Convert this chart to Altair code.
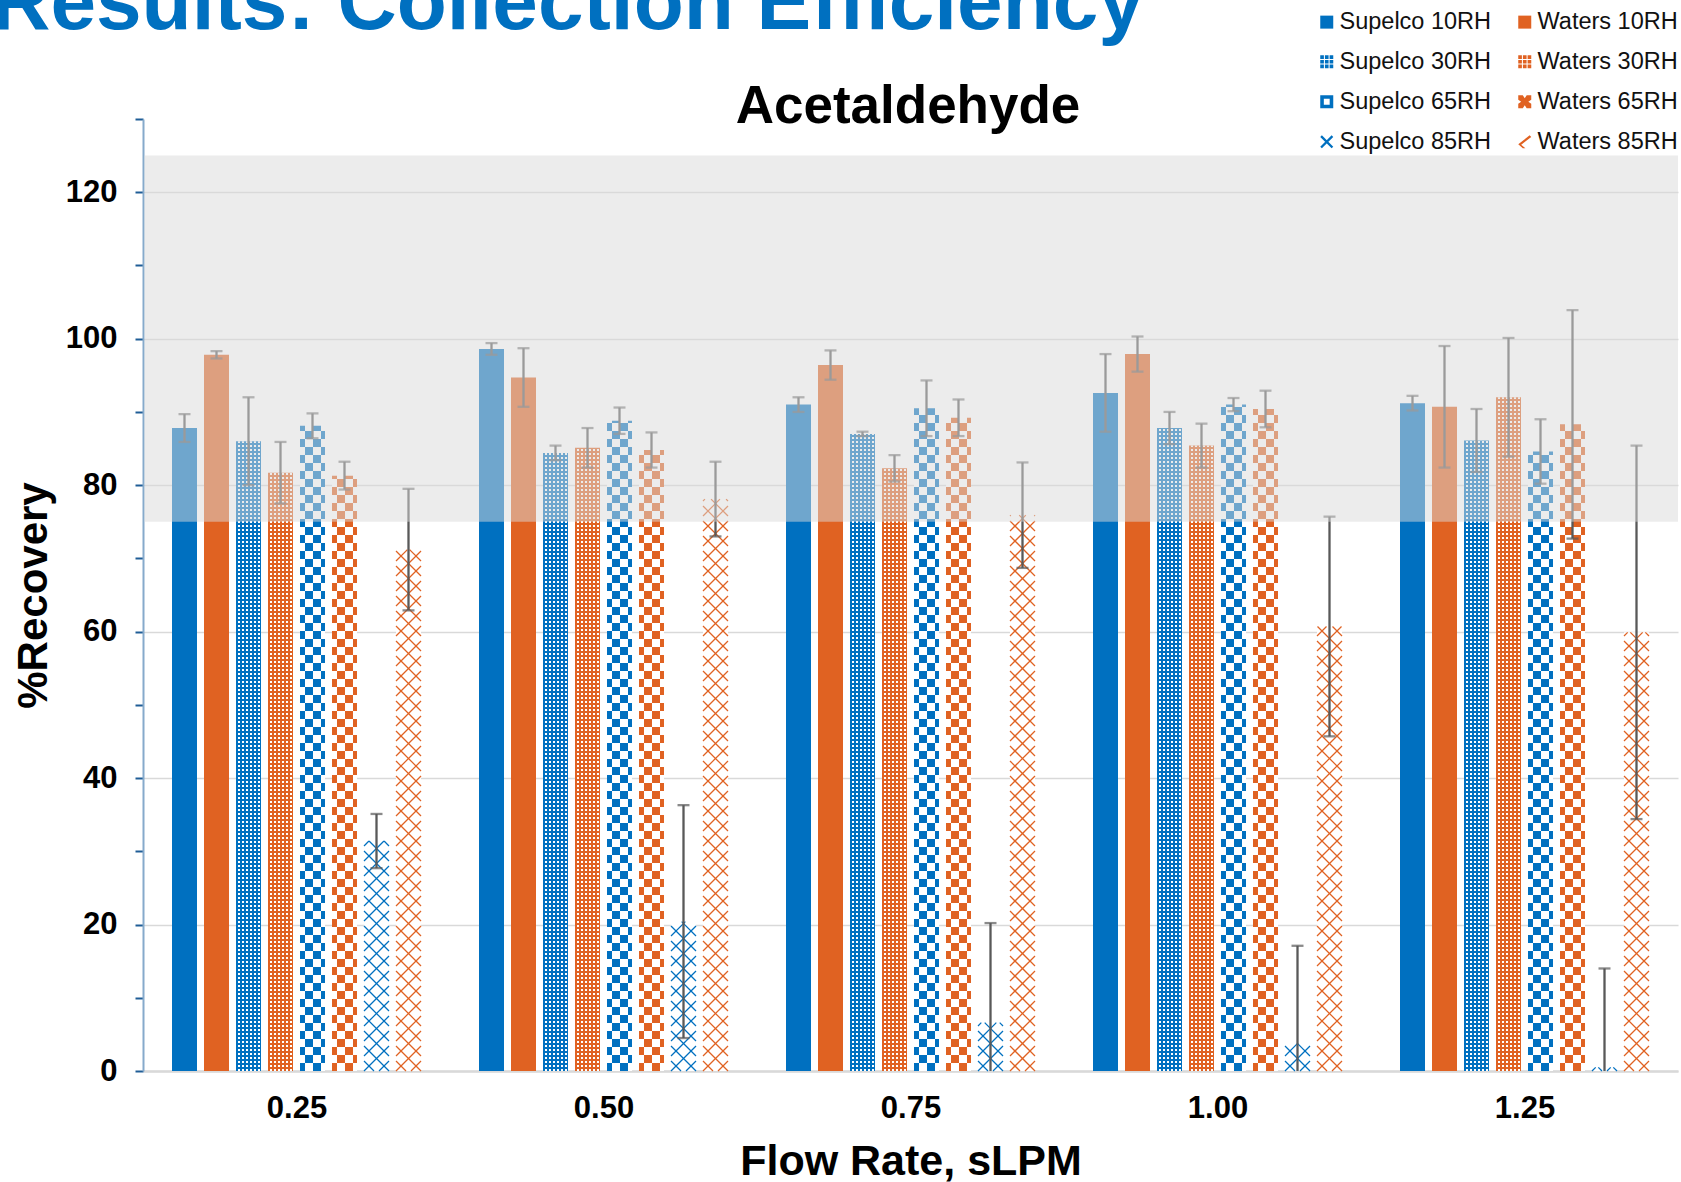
import altair as alt
import numpy as np
import pandas as pd

# ---------------- data ----------------
flow_rates = [0.25, 0.50, 0.75, 1.00, 1.25]
series_names = ["Supelco 10RH", "Waters 10RH", "Supelco 30RH", "Waters 30RH",
                "Supelco 65RH", "Waters 65RH", "Supelco 85RH", "Waters 85RH"]
brand_colors = {"Supelco": "#0070C0", "Waters": "#E06222"}

recovery = {
    "Supelco 10RH": [87.8, 98.6, 91.0, 92.6, 91.2],
    "Waters 10RH":  [97.8, 94.7, 96.4, 97.9, 90.7],
    "Supelco 30RH": [86.0, 84.4, 87.0, 87.8, 86.1],
    "Waters 30RH":  [81.7, 85.1, 82.3, 85.4, 92.0],
    "Supelco 65RH": [88.1, 88.8, 90.5, 91.0, 84.6],
    "Waters 65RH":  [81.3, 84.8, 89.2, 90.4, 88.3],
    "Supelco 85RH": [31.4, 20.4, 6.6, 3.8, 0.5],
    "Waters 85RH":  [71.2, 78.1, 75.9, 60.7, 59.9],
}
errors = {
    "Supelco 10RH": [1.9, 0.8, 1.0, 5.3, 1.0],
    "Waters 10RH":  [0.5, 4.0, 2.0, 2.4, 8.3],
    "Supelco 30RH": [6.0, 1.0, 0.3, 2.2, 4.3],
    "Waters 30RH":  [4.2, 2.7, 1.8, 3.0, 8.1],
    "Supelco 65RH": [1.7, 1.8, 3.8, 0.9, 4.4],
    "Waters 65RH":  [1.9, 2.4, 2.5, 2.5, 15.6],
    "Supelco 85RH": [3.7, 15.9, 13.6, 13.3, 13.5],
    "Waters 85RH":  [8.3, 5.1, 7.2, 15.0, 25.5],
}
band_low, band_high = [75], [125]
main_title = "Results: Collection Efficiency"
sub_title = "Acetaldehyde"

# ---------------- layout / style constants ----------------
W_PX, H_PX = 1535, 952
X_MIN, X_MAX = 0.125, 1.375
Y_MAX = 130
kx = W_PX / (X_MAX - X_MIN)   # px per x unit
ky = H_PX / Y_MAX             # px per y unit
STEP_PX, BAR_PX = 32.0, 25.0
FONT = "Liberation Sans"
ERR_COLOR = "#595959"

# legend lists column-major: Supelco entries in column 1, Waters in column 2
legend_order = [s for s in series_names if s.startswith("Supelco")] + \
               [s for s in series_names if s.startswith("Waters")]
color_scale = alt.Scale(domain=legend_order,
                        range=[brand_colors[s.split()[0]] for s in legend_order])

# ---------------- tables built from the arrays ----------------
rows = []
for gi, fr in enumerate(flow_rates):
    for si, s in enumerate(series_names):
        v = recovery[s][gi]
        e = errors[s][gi]
        cx = fr + (si - 3.5) * STEP_PX / kx
        rows.append(dict(series=s, rh=s.split()[1], flow=fr, value=v,
                         lo=max(0.0, v - e), hi=v + e, cx=cx,
                         xl=cx - BAR_PX / 2 / kx, xr=cx + BAR_PX / 2 / kx, zero=0.0))
bars = pd.DataFrame(rows)

# 30RH: white dot columns (dashed vertical rules)
dot_rows = []
for r in bars[bars.rh == "30RH"].itertuples():
    for k in range(6):
        u = 3.0 + 4 * k
        dot_rows.append(dict(series=r.series, x=r.xl + u / kx, zero=0.0, value=r.value))
dots = pd.DataFrame(dot_rows)

# 65RH: checkerboard columns
chk_rows = []
for r in bars[bars.rh == "65RH"].itertuples():
    for k, (u, w) in enumerate([(2.5, 5.0), (9.0, 8.0), (17.0, 8.0), (23.0, 4.0)]):
        chk_rows.append(dict(series=r.series, x=r.xl + u / kx, w=w, phase=k % 2,
                             zero=0.0, value=r.value))
checks = pd.DataFrame(chk_rows)

# 85RH: diagonal lattice segments clipped to each bar
DELTA = 15.0
lat_rows = []
for r in bars[bars.rh == "85RH"].itertuples():
    H = r.value * ky
    Wb = BAR_PX
    for a in np.arange(-2 * DELTA, H + DELTA, DELTA):
        u0, u1 = max(0.0, -a), min(Wb, H - a)
        if u1 > u0:
            lat_rows.append(dict(series=r.series, x1=r.xl + u0 / kx, x2=r.xl + u1 / kx,
                                 y1=(u0 + a) / ky, y2=(u1 + a) / ky))
    for b in np.arange(10.0 - 2 * DELTA, H + Wb + 2 * DELTA, DELTA):
        u0, u1 = max(0.0, b - H), min(Wb, b)
        if u1 > u0:
            lat_rows.append(dict(series=r.series, x1=r.xl + u0 / kx, x2=r.xl + u1 / kx,
                                 y1=(b - u0) / ky, y2=(b - u1) / ky))
lattice = pd.DataFrame(lat_rows)

caps = pd.concat([
    bars[["cx", "hi"]].rename(columns={"hi": "yc"}),
    bars[bars.lo > 0][["cx", "lo"]].rename(columns={"lo": "yc"}),
])

# ---------------- legend symbols ----------------
grid_path = " ".join(
    f"M{x0},{y0}h0.56v0.56h-0.56Z" for x0 in (-1, -0.28, 0.44) for y0 in (-1, -0.28, 0.44))
sym = {
    "30": grid_path,
    "S65": "M-1,-1H1V1H-1Z M-0.45,-0.45V0.45H0.45V-0.45Z",
    "W65": "M-1,-1H-0.3L0,-0.55L0.3,-1H1V-0.3L0.55,0L1,0.3V1H0.3L0,0.55L-0.3,1H-1V0.3L-0.55,0L-1,-0.3Z",
    "S85": "M-1,-0.75L-0.75,-1L1,0.75L0.75,1Z M-1,0.75L0.75,-1L1,-0.75L-0.75,1Z",
    "W85": "M0.75,-1L1,-0.75L-0.55,0.45L0.1,1H-0.3L-1,0.4Z",
}
sym_expr = (
    "indexof(datum.value, '10RH') >= 0 ? 'square' : "
    f"indexof(datum.value, '30RH') >= 0 ? '{sym['30']}' : "
    f"datum.value == 'Supelco 65RH' ? '{sym['S65']}' : "
    f"datum.value == 'Waters 65RH' ? '{sym['W65']}' : "
    f"datum.value == 'Supelco 85RH' ? '{sym['S85']}' : '{sym['W85']}'"
)

legend = alt.Legend(
    orient="none", legendX=1172, legendY=-109, columns=2, title=None,
    symbolSize=169, symbolType={"expr": sym_expr}, symbolStrokeWidth=0,
    labelFontSize=23.5, labelFont=FONT, labelColor="#111111", labelLimit=400,
    rowPadding=15, columnPadding=21, labelOffset=1, padding=0,
)

x_enc = alt.X(
    "xl:Q",
    scale=alt.Scale(domain=[X_MIN, X_MAX], nice=False, zero=False),
    title="Flow Rate, sLPM",
    axis=alt.Axis(
        values=flow_rates, format=".2f", ticks=False, grid=False,
        domainColor="#d9d9d9", domainWidth=2.5,
        labelFontSize=31, labelFontWeight="bold", labelColor="#000000",
        labelPadding=22, labelOverlap=False,
        titleFontSize=43, titleFontWeight="bold", titleColor="#000000",
        titleY=103, titleBaseline="alphabetic",
    ),
)
y_enc = alt.Y(
    "zero:Q",
    scale=alt.Scale(domain=[0, Y_MAX], nice=False),
    title="%Recovery",
    axis=alt.Axis(
        values=list(range(0, Y_MAX + 1, 5)),
        labelExpr="datum.value % 20 == 0 ? datum.label : ''",
        gridOpacity={"condition": {"test": "datum.value % 20 == 0", "value": 1}, "value": 0},
        gridColor="#d9d9d9", gridWidth=1.5,
        domainColor="#86aacb", domainWidth=2,
        tickColor="#1f5d96", tickWidth=2, tickSize=8,
        labelFontSize=31, labelFontWeight="bold", labelColor="#000000",
        labelPadding=18, labelOverlap=False,
        titleFontSize=42, titleFontWeight="bold", titleColor="#000000",
        titleAngle=270, titleX=-97, titleY=476, titleAlign="center",
        titleBaseline="alphabetic",
    ),
)

# ---------------- layers ----------------
white_base = alt.Chart(bars).transform_filter(
    "datum.rh == '65RH' || datum.rh == '85RH'"
).mark_rect(color="white").encode(x=x_enc, x2="xr:Q", y=y_enc, y2="value:Q")

color_base = alt.Chart(bars).transform_filter(
    "datum.rh == '10RH' || datum.rh == '30RH'"
).mark_rect().encode(
    x="xl:Q", x2="xr:Q", y="zero:Q", y2="value:Q",
    color=alt.Color("series:N", scale=color_scale, legend=legend),
)

dot_layer = alt.Chart(dots).mark_rule(
    color="white", strokeWidth=2, strokeDash=[2, 2]
).encode(x="x:Q", y="zero:Q", y2="value:Q")

check_layers = [
    alt.Chart(checks).transform_filter(f"datum.phase == {p}").mark_rule(
        strokeDash=[8, 8], strokeDashOffset=8 * p
    ).encode(
        x="x:Q", y="zero:Q", y2="value:Q",
        strokeWidth=alt.StrokeWidth("w:Q", scale=None),
        color=alt.Color("series:N", scale=color_scale, legend=None),
    )
    for p in (0, 1)
]

lattice_layer = alt.Chart(lattice).mark_rule(strokeWidth=1.25).encode(
    x="x1:Q", x2="x2:Q", y="y1:Q", y2="y2:Q",
    color=alt.Color("series:N", scale=color_scale, legend=None),
)

err_rule = alt.Chart(bars).mark_rule(color=ERR_COLOR, strokeWidth=2.3).encode(
    x="cx:Q", y="lo:Q", y2="hi:Q")
err_caps = alt.Chart(caps).mark_tick(
    orient="horizontal", size=12, thickness=2.3, color=ERR_COLOR
).encode(x="cx:Q", y="yc:Q")

overlay = alt.Chart(pd.DataFrame({"lo": band_low, "hi": band_high})).mark_rect(
    color="#dadada", opacity=0.51
).encode(x=alt.value(1.5), x2=alt.value(W_PX), y="lo:Q", y2="hi:Q")

title_big = alt.Chart(pd.DataFrame({"t": [main_title]})).mark_text(
    align="right", baseline="alphabetic", fontSize=82, fontWeight="bold",
    color="#0070C0", font=FONT,
).encode(text="t:N", x=alt.value(1001), y=alt.value(-90))

title_sub = alt.Chart(pd.DataFrame({"t": [sub_title]})).mark_text(
    align="center", baseline="alphabetic", fontSize=53, fontWeight="bold",
    color="#000000", font=FONT,
).encode(text="t:N", x=alt.value(765), y=alt.value(4))

chart = alt.layer(
    white_base, color_base, dot_layer, *check_layers, lattice_layer,
    err_rule, err_caps, overlay, title_big, title_sub,
).properties(
    width=W_PX, height=H_PX,
    autosize=alt.AutoSizeParams(type="none"),
    padding={"left": 143, "top": 119, "right": 3, "bottom": 111},
    background="white",
).configure(font=FONT).configure_view(strokeOpacity=0)

chart.save("out.html", embed_options={"renderer": "svg", "actions": False})
